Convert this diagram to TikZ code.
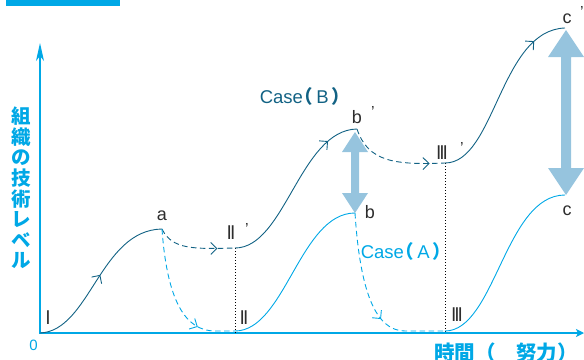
\documentclass[tikz,border=0pt]{standalone}
\usepackage{fontspec}
\usepackage{graphicx}
\setmainfont{Liberation Sans}
\newfontfamily\cjk{Noto Sans CJK JP}
\usetikzlibrary{arrows.meta,decorations.markings,calc}
\definecolor{axcyan}{RGB}{0,168,230}
\definecolor{darkb}{RGB}{18,98,132}
\definecolor{lblue}{RGB}{150,196,222}
\definecolor{numgray}{RGB}{45,45,45}
\tikzset{
  curveB/.style={draw=darkb, line width=0.9pt},
  curveA/.style={draw=axcyan, line width=0.9pt},
  dashB/.style={curveB, dash pattern=on 5.5pt off 3.5pt},
  dashA/.style={curveA, dash pattern=on 5.5pt off 3.5pt},
  midarrow/.style={postaction={decorate}, decoration={markings, mark=at position #1 with {\arrow{Straight Barb[length=6pt,width=12pt,line width=0.9pt]}}}},
  dotv/.style={draw=black, line width=0.7pt, dash pattern=on 1.2pt off 1.8pt},
  lbl/.style={font=\fontsize{18}{18}\selectfont, text=numgray, inner sep=0pt},
  roman/.style={font=\bfseries\fontsize{20}{20}\selectfont, text=numgray, inner sep=0pt},
  prime/.style={font=\fontsize{16}{16}\selectfont, text=numgray, inner sep=0pt},
  casel/.style={font=\fontsize{18.5}{18.5}\selectfont, inner sep=0pt},
}
\newcommand{\romnum}[1]{\scalebox{0.6}[1]{#1}}
\newcommand{\caselbl}[1]{Case\kern-0.45em{\cjk\bfseries （}\,#1\,{\cjk\bfseries ）}}
\begin{document}
\begin{tikzpicture}[x=1pt,y=-1pt]
\useasboundingbox (0,0) rectangle (584,359);
\clip (0,0) rectangle (584,359);
% header strip (cropped)
\fill[axcyan] (6,0) rectangle (120,6);
% key points
\coordinate (O) at (40,333);
\coordinate (Ob) at (40,334);
\coordinate (xend) at (584,333);
\coordinate (yend) at (40,43);
\coordinate (a) at (162,229);
\coordinate (IIp) at (235,248);
\coordinate (bp) at (357,129);
\coordinate (IIIp) at (445,163);
\coordinate (cp) at (565,28);
\coordinate (II) at (235,331);
\coordinate (b) at (355,213);
\coordinate (III) at (445,331);
\coordinate (c) at (565,195);
\coordinate (bt) at (355,132);
\coordinate (bb) at (355,213);
\coordinate (ct) at (566,30);
\coordinate (cb) at (566,195);
% axes
\draw[axcyan, line width=1.4pt, -{Stealth[length=18pt,width=8pt,inset=5pt]}] (Ob) -- (yend);
\draw[axcyan, line width=1.4pt, -{Stealth[length=8pt,width=8pt,inset=2pt]}] (O) -- (xend);
% fat double arrows
\fill[lblue] (bt) -- ++(13,20) -- ++(-9,0) -- ++(0,41) -- ++(9,0) -- (bb) -- ++(-13,-20) -- ++(9,0) -- ++(0,-41) -- ++(-9,0) -- cycle;
\fill[lblue] (ct) -- ++(18,27) -- ++(-13,0) -- ++(0,111) -- ++(13,0) -- (cb) -- ++(-18,-27) -- ++(13,0) -- ++(0,-111) -- ++(-13,0) -- cycle;
% dotted verticals
\draw[dotv] (IIp) -- (IIp |- O);
\draw[dotv] (IIIp) -- (IIIp |- O);
% Case B
\draw[curveB, midarrow=0.52] (O) .. controls (90,331) and (100,230) .. (a);
\draw[dashB, midarrow=0.78] (a) .. controls (172,250) and (195,249) .. (IIp);
\draw[curveB, midarrow=0.82] (IIp) .. controls (285,248) and (300,130) .. (bp);
\draw[dashB, midarrow=0.85] (bp) .. controls (368,162) and (395,165) .. (IIIp);
\draw[curveB, midarrow=0.82] (IIIp) .. controls (495,163) and (500,30) .. (cp);
% Case A
\draw[dashA, midarrow=0.74] (a) .. controls (167,300) and (185,331) .. (215,331) -- (II);
\draw[curveA] (II) .. controls (285,331) and (300,213) .. (b);
\draw[dashA, midarrow=0.62] (b) .. controls (360,290) and (375,331) .. (405,331) -- (III);
\draw[curveA] (III) .. controls (495,331) and (505,195) .. (c);
% labels
\node[text=axcyan, font=\fontsize{15}{15}\selectfont, inner sep=0pt] (zero) at (33.5,345) {0};
\node[text=axcyan, font=\cjk\bfseries\fontsize{19.5}{20.6}\selectfont, align=center, inner sep=0pt] (ylab) at (21,188) {組\\織\\の\\技\\術\\レ\\ベ\\ル};
\node[text=axcyan, font=\cjk\bfseries\fontsize{20.5}{20.5}\selectfont, anchor=base, inner sep=0pt] (xlab) at (506,360) {時間（　努力）};
\node[roman] (lI) at (48,318) {\romnum{I}};
\node[roman] (lII) at (244,318) {\romnum{II}};
\node[roman] (lIII) at (457,315) {\romnum{III}};
\node[roman] (lIIp) at (231,233) {\romnum{II}};
\node[prime] at (247,229) {’};
\node[roman] (lIIIp) at (442,153) {\romnum{III}};
\node[prime] at (462,148) {’};
\node[lbl] (la) at (162,216) {a};
\node[lbl] (lbp) at (357,117) {b};
\node[prime] at (373,112) {’};
\node[lbl] (lb) at (370,212) {b};
\node[lbl] (lcp) at (567,19) {c};
\node[prime] at (582,12) {’};
\node[lbl] (lc) at (567,211) {c};
\node[casel, text=darkb] (caseB) at (305,96) {\caselbl{B}};
\node[casel, text=axcyan] (caseA) at (406,251) {\caselbl{A}};
\end{tikzpicture}
\end{document}
